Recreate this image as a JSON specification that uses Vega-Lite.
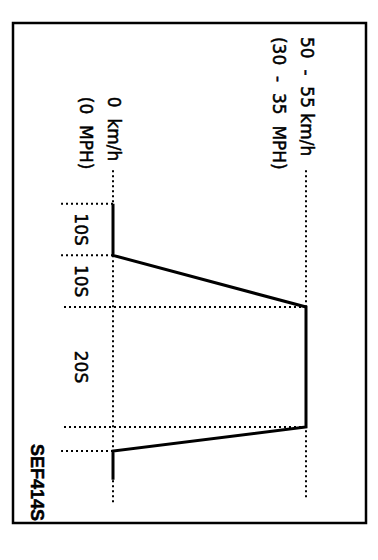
{
  "$schema": "https://vega.github.io/schema/vega-lite/v6.json",
  "width": 353,
  "height": 500,
  "padding": {"left": 13, "top": 23, "right": 12, "bottom": 37},
  "autosize": {"type": "none"},
  "background": "white",
  "config": {
    "view": {"stroke": "black", "strokeWidth": 2.5},
    "text": {"font": "DejaVu Sans", "fontSize": 17, "color": "black", "stroke": "black", "strokeWidth": 0.5}
  },
  "datasets": {
    "profile": [
      {"t": 0, "v": 0},
      {"t": 10, "v": 0},
      {"t": 20, "v": 55},
      {"t": 40, "v": 55},
      {"t": 45, "v": 0},
      {"t": 51, "v": 0}
    ],
    "timeMarks": [
      {"t": 0, "v": 0},
      {"t": 10, "v": 0},
      {"t": 20, "v": 55},
      {"t": 40, "v": 55},
      {"t": 45, "v": 0}
    ],
    "speedGuides": [
      {"v": 0, "t0": -6.5, "t1": 55.8, "line1": "0\u00a0\u00a0km/h", "line2": "(0\u00a0\u00a0MPH)", "tl": -20.7},
      {"v": 55, "t0": -6.5, "t1": 55.2, "line1": "50\u00a0\u00a0-\u00a0\u00a055\u00a0km/h", "line2": "(30\u00a0\u00a0-\u00a0\u00a035\u00a0\u00a0MPH)", "tl": -32.3}
    ],
    "phases": [
      {"tm": 5, "v": 0, "label": "10S"},
      {"tm": 15, "v": 0, "label": "10S"},
      {"tm": 30, "v": 0, "label": "20S"}
    ],
    "code": [{"t": 59.6, "label": "SEF414S"}]
  },
  "encoding": {
    "x": {"type": "quantitative", "scale": {"domain": [-28.5, 72.1], "nice": false, "zero": false}, "axis": null},
    "y": {"type": "quantitative", "scale": {"domain": [-35, 20, 40, 60], "range": [0, 284, 404, 500], "nice": false, "zero": false}, "axis": null}
  },
  "layer": [
    {
      "data": {"name": "timeMarks"},
      "mark": {"type": "rule", "strokeDash": [2, 3], "strokeWidth": 2, "color": "black"},
      "encoding": {
        "x": {"field": "v", "type": "quantitative"},
        "x2": {"datum": -14.8},
        "y": {"field": "t", "type": "quantitative"}
      }
    },
    {
      "data": {"name": "speedGuides"},
      "mark": {"type": "rule", "strokeDash": [2, 3], "strokeWidth": 2, "color": "black"},
      "encoding": {
        "x": {"field": "v", "type": "quantitative"},
        "y": {"field": "t0", "type": "quantitative"},
        "y2": {"field": "t1"}
      }
    },
    {
      "data": {"name": "profile"},
      "mark": {"type": "line", "strokeWidth": 3, "color": "black", "strokeJoin": "miter"},
      "encoding": {
        "x": {"field": "v", "type": "quantitative"},
        "y": {"field": "t", "type": "quantitative"},
        "order": {"field": "t", "type": "quantitative"}
      }
    },
    {
      "data": {"name": "speedGuides"},
      "mark": {"type": "text", "angle": 90, "align": "left", "baseline": "middle"},
      "encoding": {
        "x": {"field": "v", "type": "quantitative"},
        "y": {"field": "tl", "type": "quantitative"},
        "text": {"field": "line1"}
      }
    },
    {
      "data": {"name": "speedGuides"},
      "mark": {"type": "text", "angle": 90, "align": "left", "baseline": "middle", "dy": 28},
      "encoding": {
        "x": {"field": "v", "type": "quantitative"},
        "y": {"field": "tl", "type": "quantitative"},
        "text": {"field": "line2"}
      }
    },
    {
      "data": {"name": "phases"},
      "mark": {"type": "text", "angle": 90, "align": "center", "baseline": "middle", "dy": 33},
      "encoding": {
        "x": {"field": "v", "type": "quantitative"},
        "y": {"field": "tm", "type": "quantitative"},
        "text": {"field": "label"}
      }
    },
    {
      "data": {"name": "code"},
      "mark": {"type": "text", "angle": 90, "align": "right", "baseline": "middle", "font": "Liberation Sans", "fontWeight": "bold", "fontSize": 18},
      "encoding": {
        "x": {"datum": -21.9, "type": "quantitative"},
        "y": {"field": "t", "type": "quantitative"},
        "text": {"field": "label"}
      }
    }
  ]
}
